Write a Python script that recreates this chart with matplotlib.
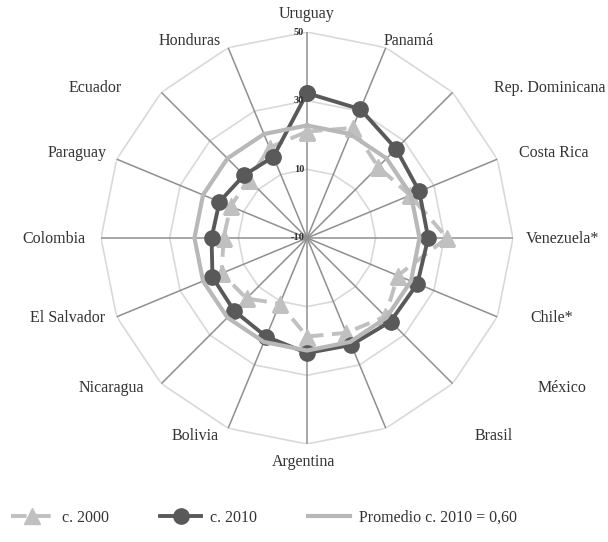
import numpy as np
import matplotlib
matplotlib.use("Agg")
import matplotlib.pyplot as plt

plt.rcParams['font.family'] = ['Liberation Serif', 'DejaVu Serif']

paises = ['Uruguay', 'Panamá', 'Rep. Dominicana', 'Costa Rica', 'Venezuela*',
          'Chile*', 'México', 'Brasil', 'Argentina', 'Bolivia', 'Nicaragua',
          'El Salvador', 'Colombia', 'Paraguay', 'Ecuador', 'Honduras']
c2000 = [21.0, 24.7, 19.3, 22.5, 30.8, 18.6, 22.3, 19.9, 18.7, 10.7, 14.9,
         16.9, 14.3, 14.1, 14.0, 18.5]
c2010 = [32.2, 30.6, 26.7, 25.4, 25.3, 24.8, 24.4, 23.7, 23.5, 21.1, 20.0,
         19.8, 17.8, 17.6, 15.9, 15.6]
promedio = float(np.mean(c2010))
niveles = [-10, 10, 30, 50]

# label anchor points (pixel centres in the 608x542 canvas)
pos_etiquetas = [(307, 14), (409, 41), (560, 88), (554, 153), (562, 239),
                 (552, 318), (562, 388), (494, 436), (304, 462), (195, 436),
                 (111, 388), (68, 318), (54, 239), (77, 153), (95, 88),
                 (190, 41)]

W, H = 608, 542
fig = plt.figure(figsize=(W / 100, H / 100), dpi=100)
ax = fig.add_axes([101 / W, 98 / H, 412 / W, 412 / H], projection='polar')
ax.set_theta_zero_location('N')
ax.set_theta_direction(-1)

n = len(paises)
theta = np.arange(n) * 2 * np.pi / n
t_cerrado = np.append(theta, theta[0])

def cerrar(v):
    return np.append(v, v[0])

# polygon rings and spokes
for lev in niveles[1:]:
    ax.plot(t_cerrado, [lev] * (n + 1), color='#d9d9d9', lw=1.2, zorder=1)
for t in theta:
    ax.plot([t, t], [niveles[0], niveles[-1]], color='#8f8f8f', lw=1.1, zorder=1)

ax.plot(t_cerrado, cerrar(c2000), color='#c0c0c0', lw=2.8, dashes=(4, 2.2),
        marker='^', markersize=11, zorder=3, label='c. 2000')
ax.plot(t_cerrado, cerrar(c2010), color='#595959', lw=2.8, marker='o',
        markersize=11, zorder=4, label='c. 2010')
ax.plot(t_cerrado, [promedio] * (n + 1), color='#b8b8b8', lw=3.0, zorder=5,
        label='Promedio c. 2010 = 0,60')

ax.set_ylim(niveles[0], niveles[-1])
ax.grid(False)
ax.spines['polar'].set_visible(False)
ax.set_xticks([])
ax.set_yticks([])

for lev in niveles:
    ax.annotate(str(lev), (0, lev), xytext=(-2, 0), textcoords='offset points',
                ha='right', va='center', fontsize=7.5, fontweight='bold',
                color='#333333', zorder=6)

for nombre, (px, py) in zip(paises, pos_etiquetas):
    ha = 'center'
    x = px / W
    if nombre == 'Rep. Dominicana':
        ha, x = 'right', 606 / W
    fig.text(x, 1 - py / H, nombre, ha=ha, va='center',
             fontsize=11.5, color='#333333')

fig.legend(loc='center', bbox_to_anchor=(264 / W, 1 - 518 / H), ncol=3,
           frameon=False, fontsize=11.5, handlelength=2.6, columnspacing=3.2,
           handletextpad=0.55, labelcolor='#333333')

fig.savefig('out.png', dpi=100)
